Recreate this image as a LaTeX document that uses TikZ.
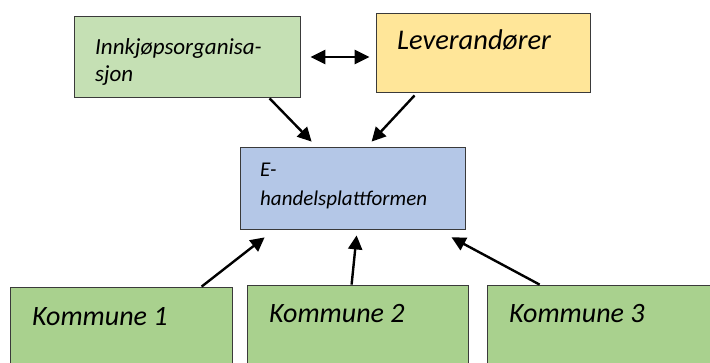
\documentclass[tikz,border=0pt]{standalone}
\usepackage{fontspec}
\setmainfont{Carlito}
\usepackage{tikz}
\usetikzlibrary{arrows.meta}
\definecolor{orggreen}{HTML}{C5E0B4}
\definecolor{levyellow}{HTML}{FFE699}
\definecolor{platblue}{HTML}{B4C7E7}
\definecolor{komgreen}{HTML}{A9D18E}
\definecolor{edge}{HTML}{3A3A3A}
\tikzset{
  box/.style={draw=edge, line width=0.8pt, inner sep=0pt},
  txt/.style={anchor=base west, inner sep=0pt, align=left, font=\itshape},
  flow/.style={draw=black, line width=2.4pt, -{Triangle[length=14pt,width=14pt]}},
  both/.style={draw=black, line width=2.8pt, {Triangle[length=15pt,width=14pt]}-{Triangle[length=15pt,width=14pt]}},
}

\begin{document}
\begin{tikzpicture}[x=1pt,y=1pt]
  \useasboundingbox (0,0) rectangle (710,362);
  % boxes
  \node[box, fill=orggreen, minimum width=226pt, minimum height=81pt] (inn) at (187,305.5) {};
  \node[box, fill=levyellow, minimum width=214pt, minimum height=79pt] (lev) at (483,309.5) {};
  \node[box, fill=platblue, minimum width=225pt, minimum height=82pt] (eh) at (352.5,174) {};
  \node[box, fill=komgreen, minimum width=222pt, minimum height=85pt] (k1) at (121,32.5) {};
  \node[box, fill=komgreen, minimum width=221pt, minimum height=87pt] (k2) at (357.5,33.5) {};
  \node[box, fill=komgreen, minimum width=228pt, minimum height=87pt] (k3) at (601,33.5) {};
  % texts (base = last line)
  \node[txt, font=\itshape\fontsize{23}{27}\selectfont] (inntxt) at (95,280) {Innkjøpsorganisa-\\sjon};
  \node[txt, font=\itshape\fontsize{28.5}{34}\selectfont] (levtxt) at (397,312) {Leverandører};
  \node[txt, font=\itshape\fontsize{21}{28}\selectfont] (ehtxt) at (260,157) {E-\\handelsplattformen};
  \node[txt, font=\itshape\fontsize{28}{34}\selectfont] (k1txt) at (32,37) {Kommune 1};
  \node[txt, font=\itshape\fontsize{28}{34}\selectfont] (k2txt) at (269,40) {Kommune 2};
  \node[txt, font=\itshape\fontsize{28}{34}\selectfont] (k3txt) at (509,40) {Kommune 3};
  % arrows
  \draw[both] ([xshift=10pt,yshift=-0.5pt]inn.east) -- ([xshift=-6pt,yshift=-4.5pt]lev.west);
  \draw[flow] ([xshift=196pt,yshift=-1pt]inn.south west) -- ([xshift=72pt,yshift=5pt]eh.north west);
  \draw[flow] ([xshift=39pt,yshift=-3pt]lev.south west) -- ([xshift=132pt,yshift=5pt]eh.north west);
  \draw[flow] ([xshift=192pt]k1.north west) -- ([xshift=25pt,yshift=-8pt]eh.south west);
  \draw[flow] ([xshift=105pt]k2.north west) -- ([xshift=117pt,yshift=-6pt]eh.south west);
  \draw[flow] ([xshift=53pt]k3.north west) -- ([xshift=212pt,yshift=-8pt]eh.south west);
\end{tikzpicture}
\end{document}
